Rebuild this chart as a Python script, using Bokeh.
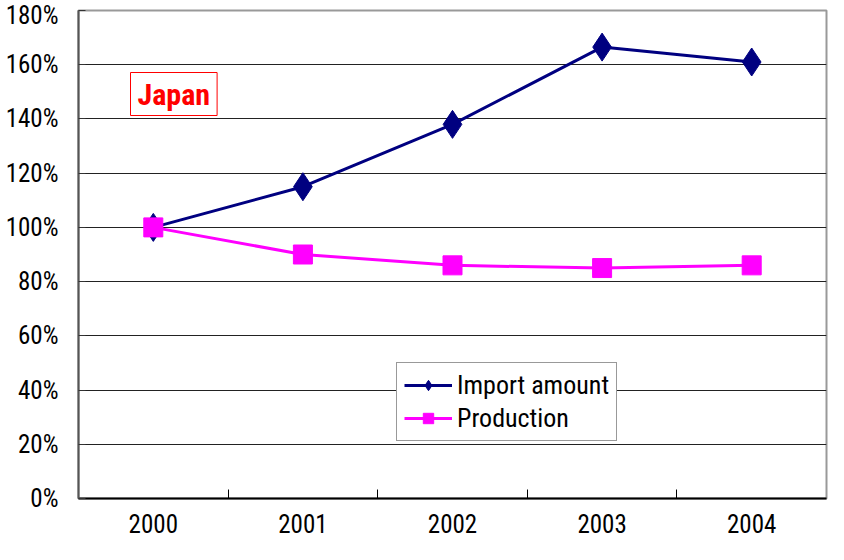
from bokeh.plotting import figure
from bokeh.models import (FixedTicker, PrintfTickFormatter, Range1d, Legend,
                          LegendItem, Label, ColumnDataSource)
from bokeh.embed import file_html
from bokeh.resources import INLINE

years = ["2000", "2001", "2002", "2003", "2004"]
import_amount = [100, 115, 138, 166.5, 161]
production = [100, 90, 86, 85, 86]
y_ticks = [0, 20, 40, 60, 80, 100, 120, 140, 160, 180]

FONT = "Roboto Condensed"

xpos = [i + 0.5 for i in range(len(years))]
src = ColumnDataSource(dict(x=xpos, imp=import_amount, prod=production))

p = figure(width=828, height=544, output_backend="svg", toolbar_location=None,
           x_range=Range1d(0, len(years)), y_range=Range1d(0, 180),
           min_border_left=78, min_border_right=2, min_border_top=10,
           min_border_bottom=46)

p.background_fill_color = "white"
p.border_fill_color = "white"
p.outline_line_color = "#999999"
p.outline_line_width = 2

# y axis
p.yaxis.ticker = FixedTicker(ticks=y_ticks)
p.yaxis.formatter = PrintfTickFormatter(format="%d%%")
p.yaxis.axis_line_color = "#555555"
p.yaxis.axis_line_width = 2
p.yaxis.major_tick_in = 7
p.yaxis.major_tick_out = 0
p.yaxis.major_tick_line_color = "#333333"
p.yaxis.minor_tick_line_color = None
p.yaxis.major_label_text_font = FONT
p.yaxis.major_label_text_font_size = "25px"
p.yaxis.major_label_text_color = "black"
p.yaxis.major_label_standoff = 20

# x axis: labels at category centres, ticks at category boundaries
p.xaxis.ticker = FixedTicker(ticks=xpos, minor_ticks=list(range(1, len(years))))
p.xaxis.major_label_overrides = {x: y for x, y in zip(xpos, years)}
p.xaxis.axis_line_color = "black"
p.xaxis.axis_line_width = 2
p.xaxis.major_tick_line_color = None
p.xaxis.major_tick_in = 0
p.xaxis.major_tick_out = 0
p.xaxis.minor_tick_in = 9
p.xaxis.minor_tick_out = 0
p.xaxis.minor_tick_line_color = "black"
p.xaxis.major_label_text_font = FONT
p.xaxis.major_label_text_font_size = "25px"
p.xaxis.major_label_text_color = "black"
p.xaxis.major_label_standoff = 15

p.xgrid.grid_line_color = None
p.ygrid.ticker = FixedTicker(ticks=y_ticks)
p.ygrid.grid_line_color = "#222222"
p.ygrid.grid_line_width = 1

navy = "#000080"
magenta = "#FF00FF"
l1 = p.line("x", "imp", source=src, line_color=navy, line_width=3)
m1 = p.scatter("x", "imp", source=src, marker="diamond", size=28,
               fill_color=navy, line_color=navy)
l2 = p.line("x", "prod", source=src, line_color=magenta, line_width=3)
m2 = p.scatter("x", "prod", source=src, marker="square", size=19,
               fill_color=magenta, line_color=magenta)

legend = Legend(items=[LegendItem(label="Import amount", renderers=[l1, m1]),
                       LegendItem(label="Production", renderers=[l2, m2])],
                location=(318, 57))
legend.label_text_font = FONT
legend.label_text_font_size = "26px"
legend.label_text_color = "black"
legend.glyph_width = 48
legend.glyph_height = 26
legend.label_standoff = 5
legend.spacing = 3
legend.padding = 7
legend.margin = 0
legend.border_line_color = "#333333"
legend.border_line_width = 1
legend.background_fill_color = "white"
legend.background_fill_alpha = 1
p.add_layout(legend, "center")

lab = Label(x=52, y=383, x_units="screen", y_units="screen", text="Japan",
            text_font=FONT, text_font_size="30px", text_font_style="bold",
            text_color="red", border_line_color="red", border_line_width=1,
            background_fill_color="white", padding=(7, 4))
p.add_layout(lab)

open("out.html", "w").write(file_html(p, INLINE))
